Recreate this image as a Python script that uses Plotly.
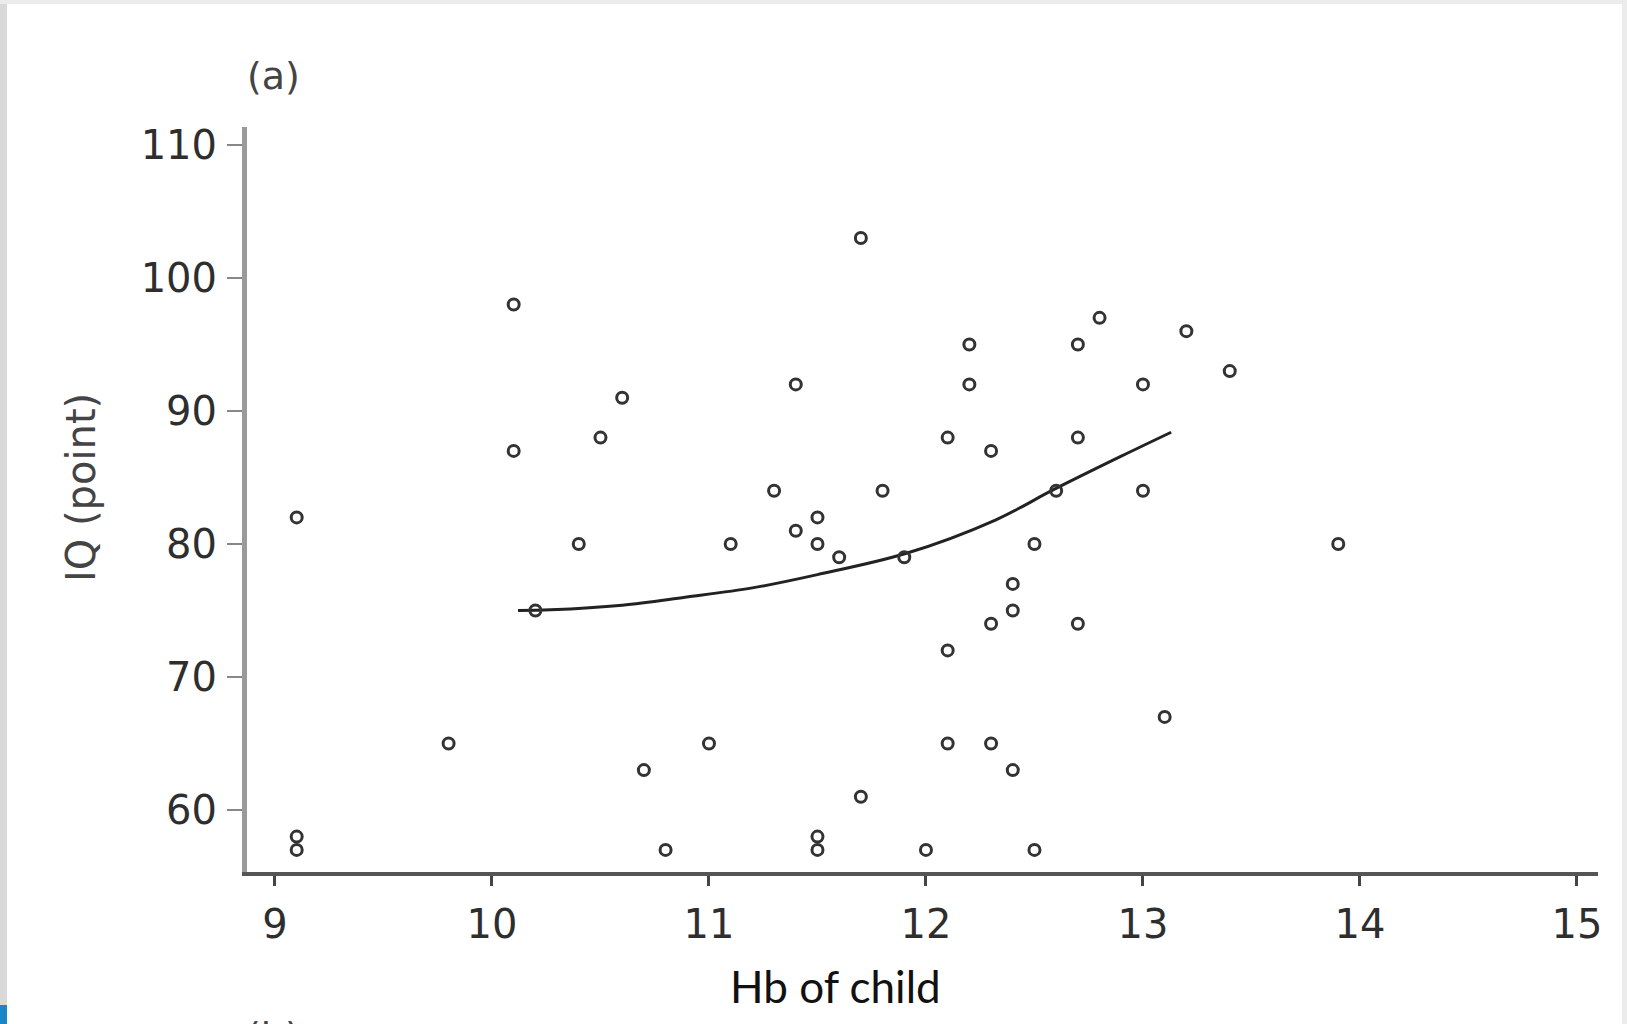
import plotly.graph_objects as go

# ---- data ----
hb_child = [9.1, 9.1, 9.1, 9.8, 10.1, 10.1, 10.2, 10.4, 10.5, 10.6, 10.7, 10.8,
            11.0, 11.1, 11.3, 11.4, 11.4, 11.5, 11.5, 11.6, 11.5, 11.5, 11.7, 11.7,
            11.8, 11.9, 12.0, 12.1, 12.1, 12.1, 12.2, 12.2, 12.3, 12.3, 12.3, 12.4,
            12.4, 12.4, 12.5, 12.5, 12.6, 12.7, 12.7, 12.7, 12.8, 13.0, 13.0, 13.1,
            13.2, 13.4, 13.9]
iq_point = [82, 58, 57, 65, 98, 87, 75, 80, 88, 91, 63, 57,
            65, 80, 84, 92, 81, 82, 80, 79, 58, 57, 103, 61,
            84, 79, 57, 88, 72, 65, 95, 92, 87, 74, 65, 77,
            75, 63, 80, 57, 84, 95, 88, 74, 97, 92, 84, 67,
            96, 93, 80]

fit_x = [10.12, 10.27, 10.6, 10.89, 11.2, 11.5, 11.91, 12.32, 12.59, 12.9, 13.13]
fit_y = [75.0, 75.05, 75.4, 76.0, 76.7, 77.7, 79.3, 81.8, 84.1, 86.6, 88.4]

x_ticks = [9, 10, 11, 12, 13, 14, 15]
y_ticks = [60, 70, 80, 90, 100, 110]

# ---- layout geometry (pixels) ----
W, H = 1627, 1024
ML, MR, MT, MB = 247, 29, 127, 152
PW, PH = W - ML - MR, H - MT - MB


def px(xp):
    return (xp - ML) / PW


def py(yp):
    return (H - MB - yp) / PH


font_fam = "DejaVu Sans, Arial, sans-serif"
txt_col = "#2e2e2e"

fig = go.Figure()
fig.add_trace(go.Scatter(
    x=fit_x, y=fit_y, mode="lines",
    line=dict(color="#222222", width=3, shape="spline"),
    showlegend=False, hoverinfo="skip"))
fig.add_trace(go.Scatter(
    x=hb_child, y=iq_point, mode="markers",
    marker=dict(symbol="circle-open", size=11, color="#333333",
                line=dict(width=3, color="#333333")),
    showlegend=False))

fig.update_layout(
    width=W, height=H,
    margin=dict(l=ML, r=MR, t=MT, b=MB, pad=0),
    paper_bgcolor="white", plot_bgcolor="white",
    font=dict(family=font_fam, size=40, color=txt_col),
    xaxis=dict(range=[8.871, 15.097], tickvals=x_ticks,
               ticktext=[str(v) for v in x_ticks],
               showgrid=False, zeroline=False,
               showline=True, linecolor="#555555", linewidth=4,
               ticks="outside", ticklen=10, tickwidth=3, tickcolor="#444444",
               tickfont=dict(family=font_fam, size=40, color=txt_col),
               ticklabelstandoff=4),
    yaxis=dict(range=[55.34, 111.35], tickvals=y_ticks,
               ticktext=[str(v) for v in y_ticks],
               showgrid=False, zeroline=False,
               showline=True, linecolor="#9a9a9a", linewidth=5,
               ticks="outside", ticklen=15, tickwidth=2, tickcolor="#888888",
               tickfont=dict(family=font_fam, size=40, color=txt_col),
               ticklabelstandoff=2),
    annotations=[
        dict(text="IQ (point)", textangle=-90, xref="paper", yref="paper",
             x=px(81), y=py(488), xanchor="center", yanchor="middle",
             showarrow=False, font=dict(family=font_fam, size=40, color="#444444")),
        dict(text="(a)", xref="paper", yref="paper",
             x=px(273), y=py(76), xanchor="center", yanchor="middle",
             showarrow=False, font=dict(family=font_fam, size=38, color="#444444")),
        dict(text="(b)", xref="paper", yref="paper",
             x=px(273), y=py(1036), xanchor="center", yanchor="middle",
             showarrow=False, font=dict(family=font_fam, size=38, color="#444444")),
        dict(text="Hb of child", xref="paper", yref="paper",
             x=px(835), y=py(986), xanchor="center", yanchor="middle",
             showarrow=False, font=dict(family="Lato, Open Sans, sans-serif", size=44, color="#111111")),
    ],
    shapes=[
        dict(type="rect", xref="paper", yref="paper", layer="above",
             x0=px(0), x1=px(7), y0=py(H), y1=py(0),
             fillcolor="#d9d9d9", line=dict(width=0)),
        dict(type="rect", xref="paper", yref="paper", layer="above",
             x0=px(0), x1=px(W), y0=py(4), y1=py(0),
             fillcolor="#ececec", line=dict(width=0)),
        dict(type="rect", xref="paper", yref="paper", layer="above",
             x0=px(1622), x1=px(W), y0=py(H), y1=py(0),
             fillcolor="#ececec", line=dict(width=0)),
        dict(type="rect", xref="paper", yref="paper", layer="above",
             x0=px(0), x1=px(7), y0=py(H), y1=py(1005),
             fillcolor="#1a86c8", line=dict(width=0)),
    ],
)

fig.write_html("out.html")
